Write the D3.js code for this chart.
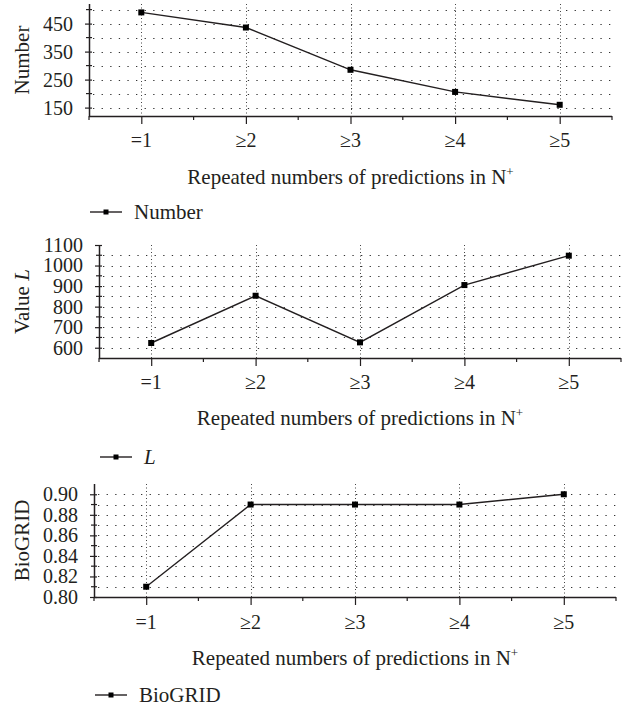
<!DOCTYPE html>
<html>
<head>
<meta charset="utf-8">
<script src="https://cdn.jsdelivr.net/npm/d3@7"></script>
<style>
  html, body { margin: 0; padding: 0; background: #fff; }
  svg { display: block; }
  text { font-family: "Liberation Serif", "Times New Roman", serif; fill: #231f20; }
</style>
</head>
<body>
<svg id="chart" width="623" height="706"></svg>
<script>
// ---- data ----
const categories = ["=1", "≥2", "≥3", "≥4", "≥5"];
const numberValues = [490, 436, 285, 206, 160];
const lValues = [623, 853, 626, 905, 1048];
const biogridValues = [0.81, 0.89, 0.89, 0.89, 0.90];

const numberTicks = [150, 250, 350, 450];
const lTicks = [600, 700, 800, 900, 1000, 1100];
const biogridTicks = [0.80, 0.82, 0.84, 0.86, 0.88, 0.90];

const xTitle = "Repeated numbers of predictions in N";

// ---- layout ----
const panels = [
  { values: numberValues, ticks: numberTicks, domain: [120, 520], grid: d3.range(150, 501, 50),
    fmt: d3.format("d"), left: 89, right: 612, top: 4, bottom: 116,
    tickY: 147, titleY: 184, legendY: 212, ytitle: [{t: "Number"}], legend: [{t: "Number"}] },
  { values: lValues, ticks: lTicks, domain: [550, 1100], grid: d3.range(600, 1051, 50),
    fmt: d3.format("d"), left: 99, right: 621, top: 245, bottom: 358,
    tickY: 389, titleY: 425, legendY: 457, ytitle: [{t: "Value "}, {t: "L", it: true}], legend: [{t: "L", it: true}] },
  { values: biogridValues, ticks: biogridTicks, domain: [0.80, 0.91], grid: d3.range(0.81, 0.905, 0.01),
    fmt: d3.format(".2f"), left: 94, right: 616, top: 484, bottom: 597,
    tickY: 629, titleY: 665, legendY: 695, ytitle: [{t: "BioGRID"}], legend: [{t: "BioGRID"}] }
];

const svg = d3.select("#chart");
const ink = "#231f20";

panels.forEach(p => {
  const x = d3.scaleLinear().domain([0.5, 5.5]).range([p.left, p.right]);
  const y = d3.scaleLinear().domain(p.domain).range([p.bottom, p.top]);
  const g = svg.append("g");

  // horizontal dotted grid
  g.selectAll(".hg").data(p.grid).join("line")
    .attr("x1", p.left + 4).attr("x2", p.right)
    .attr("y1", d => Math.round(y(d)) + 0.5).attr("y2", d => Math.round(y(d)) + 0.5)
    .attr("stroke", "#333").attr("stroke-width", 1.2)
    .attr("stroke-dasharray", "1.3,7.3");

  // vertical dotted grid at categories
  g.selectAll(".vg").data(d3.range(1, 6)).join("line")
    .attr("x1", d => Math.round(x(d)) + 0.5).attr("x2", d => Math.round(x(d)) + 0.5)
    .attr("y1", p.top).attr("y2", p.bottom)
    .attr("stroke", "#444").attr("stroke-width", 1)
    .attr("stroke-dasharray", "1,2.5");

  // y axis
  const yAxis = d3.axisLeft(y).tickValues(p.ticks).tickFormat(p.fmt).tickSize(4).tickPadding(12);
  const ya = g.append("g").attr("transform", `translate(${p.left},0)`).call(yAxis);
  ya.select(".domain").attr("d", `M0.5,${p.top}V${p.bottom}`).attr("stroke", ink).attr("stroke-width", 1.5);
  ya.selectAll(".tick line").attr("x1", 3).attr("stroke", ink).attr("stroke-width", 1.2);
  ya.selectAll(".tick text").attr("font-size", 20).attr("fill", ink)
    .attr("font-family", "Liberation Serif");
  // minor ticks at grid positions
  g.selectAll(".ym").data(p.grid.filter(v => !p.ticks.some(t => Math.abs(t - v) < 1e-9))).join("line")
    .attr("x1", p.left - 3).attr("x2", p.left + 3)
    .attr("y1", d => y(d)).attr("y2", d => y(d))
    .attr("stroke", ink).attr("stroke-width", 1.2);

  // x axis
  const xAxis = d3.axisBottom(x).tickValues(d3.range(1, 6)).tickFormat(d => categories[d - 1])
    .tickSize(8).tickPadding(6);
  const xa = g.append("g").attr("transform", `translate(0,${p.bottom})`).call(xAxis);
  xa.select(".domain").attr("d", `M${p.left},0.5H${p.right}`).attr("stroke", ink).attr("stroke-width", 1.5);
  xa.selectAll(".tick line").attr("stroke", ink).attr("stroke-width", 1.2);
  xa.selectAll(".tick text").remove();
  g.selectAll(".xl").data(d3.range(1, 6)).join("text")
    .attr("x", d => x(d)).attr("y", p.tickY)
    .attr("text-anchor", "middle").attr("font-size", 20)
    .text(d => categories[d - 1]);
  // minor x ticks
  g.selectAll(".xm").data([0.5, 1.5, 2.5, 3.5, 4.5, 5.5]).join("line")
    .attr("x1", d => x(d)).attr("x2", d => x(d))
    .attr("y1", p.bottom).attr("y2", p.bottom + 4)
    .attr("stroke", ink).attr("stroke-width", 1.2);

  // line
  const line = d3.line().x((d, i) => x(i + 1)).y(d => y(d));
  g.append("path").datum(p.values).attr("d", line)
    .attr("fill", "none").attr("stroke", ink).attr("stroke-width", 1.4);
  g.selectAll(".pt").data(p.values).join("rect")
    .attr("x", (d, i) => x(i + 1) - 3).attr("y", d => y(d) - 3)
    .attr("width", 6).attr("height", 6).attr("fill", "#000");

  // y title
  const cy = (p.top + p.bottom) / 2;
  const yt = g.append("text").attr("transform", `translate(29,${cy}) rotate(-90)`)
    .attr("text-anchor", "middle").attr("font-size", 21);
  p.ytitle.forEach(s => yt.append("tspan").attr("font-style", s.it ? "italic" : "normal").text(s.t));

  // x title
  const xt = g.append("text").attr("x", (p.left + p.right) / 2).attr("y", p.titleY)
    .attr("text-anchor", "middle").attr("font-size", 21);
  xt.append("tspan").text(xTitle);
  xt.append("tspan").attr("font-size", 13).attr("dy", -8).text("+");

  // legend
  const lx = p.left + 1;
  g.append("line").attr("x1", lx).attr("x2", lx + 32).attr("y1", p.legendY).attr("y2", p.legendY)
    .attr("stroke", ink).attr("stroke-width", 1.4);
  g.append("rect").attr("x", lx + 16 - 2.5).attr("y", p.legendY - 2.5).attr("width", 5).attr("height", 5).attr("fill", "#000");
  const lt = g.append("text").attr("x", lx + 44).attr("y", p.legendY + 6.5).attr("font-size", 21);
  p.legend.forEach(s => lt.append("tspan").attr("font-style", s.it ? "italic" : "normal").text(s.t));
});
</script>
</body>
</html>
